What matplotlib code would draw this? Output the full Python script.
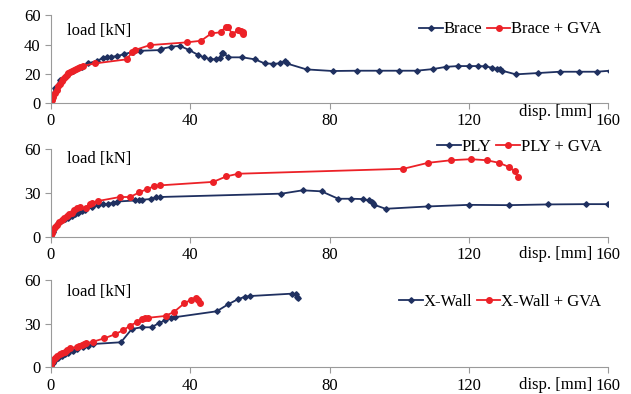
import numpy as np
import matplotlib.pyplot as plt

plt.rcParams['font.family'] = 'serif'
plt.rcParams['font.serif'] = ['Liberation Serif', 'Times New Roman', 'DejaVu Serif']
plt.rcParams['font.size'] = 12

navy = "#1f3060"
red = "#ec2127"

# Brace
brace_x = [0, 1.2, 2.6, 4.5, 6.4, 8.8, 10.7, 13.1, 14.8, 16.2, 17.2, 18.9, 21, 23.6, 25.6,
           31.3, 31.7, 34.6, 37, 39.7, 42.3, 43.9, 45.6, 47.4, 48.5, 49, 49.5, 50.9, 55,
           58.6, 61.4, 63.8, 65.7, 67.2, 67.7, 73.4, 80.9, 88, 94.2, 99.9, 105, 109.6,
           113.6, 116.9, 120.1, 122.7, 124.8, 126.8, 128.1, 128.9, 129.6, 133.5, 139.9,
           146.1, 151.7, 156.8, 160.5]
brace_y = [3, 10, 15.6, 19, 22, 24.7, 27, 28.8, 30.5, 31.6, 31.6, 32, 33.4, 35, 35.7,
           36.2, 37, 38.5, 39.1, 36.2, 32.8, 31.2, 30, 29.8, 31, 33.9, 34.5, 31.2, 31.2,
           29.8, 27, 26.8, 27, 28.6, 27, 22.9, 21.8, 22, 22, 22, 22, 23.1,
           24.7, 25.2, 25.2, 25.2, 25, 24, 23.1, 22.9, 22, 19.5, 20.4,
           21.3, 21.3, 21.3, 22]
brace_gva_x = [0, 0.3, 0.7, 1.2, 1.7, 2.1, 2.6, 3.1, 3.5, 4, 4.5, 5, 5.5, 5.9, 6.5, 7.2,
               7.8, 8.3, 9.3, 12.6, 21.7, 23.4, 24.1, 28.4, 39, 43.1, 46.1, 48.7, 50.2,
               50.9, 52, 53.8, 54.7, 55.2, 55.2]
brace_gva_y = [0.8, 2.2, 3.7, 6.5, 8.5, 11.5, 13.2, 14.9, 16.3, 17.9, 19, 20.2, 21, 21.8,
               22.5, 23.4, 24, 24.7, 25.4, 27, 29.8, 35, 36.2, 39.6, 41.5, 42.6, 47.7,
               48.4, 52.2, 52.2, 47.2, 49.9, 49.5, 48.5, 47.2]

# PLY
ply_x = [0, 0.5, 1, 1.5, 2.1, 3, 4, 5, 5.9, 6.8, 7.8, 8.8, 9.8, 11.7, 13.6, 15, 16.5,
         17.9, 19.1, 24.1, 25.4, 26, 28.7, 30.1, 31.3, 66.2, 72.3, 77.7, 82.5, 86.3,
         89.5, 91.4, 92.1, 92.6, 92.8, 96.1, 108.2, 120, 131.5, 142.8, 153.8, 160]
ply_y = [0, 3, 5, 7.2, 9.3, 10.7, 12, 13.2, 14.3, 15.5, 16.6, 17.6, 18.5, 20.1, 21.5,
         22.4, 22.6, 23.5, 24.2, 24.9, 25.4, 25.4, 25.9, 27, 27.3, 29.6, 31.9, 31.2,
         26.1, 26.1, 25.9, 24.9, 24.2, 23.1, 22, 19.2, 20.8, 21.9, 21.7, 22.2, 22.4, 22.4]
ply_gva_x = [0, 0.3, 0.7, 1.1, 1.6, 2.3, 3.1, 3.8, 4.5, 5.2, 5.9, 6.6, 7.4, 8.3, 10, 11.2,
             11.7, 13.4, 19.8, 22.7, 25.4, 27.6, 29.6, 31.3, 46.6, 50.4, 53.8, 101.2,
             108.3, 115, 120.5, 125.1, 128.7, 131.5, 133.2, 134.2]
ply_gva_y = [0, 2.5, 4.6, 6.5, 8.1, 9.8, 11.6, 13, 14.3, 15.5, 16.6, 18.2, 19.7, 20.1,
             19.4, 22.6, 23, 24.5, 27.3, 27.3, 30.5, 32.8, 34.6, 35.3, 37.7, 41.5, 43.3,
             46.7, 50.8, 52.6, 53.3, 52.6, 50.8, 48, 45, 40.9]

# X-Wall
xwall_x = [0, 0.5, 1.1, 2.1, 3.1, 4, 5, 6.2, 7.4, 9.3, 10.7, 12.1, 20.1, 23.2, 26, 28.9,
           31.1, 32.8, 34.5, 35.5, 47.6, 50.9, 53.6, 55.7, 57.3, 69.1, 70.3, 70.7, 71]
xwall_y = [1.6, 3.2, 5, 6.5, 8, 9, 10, 11.2, 12.4, 13.7, 14.6, 16, 17.2, 26.3, 27.5, 27.5,
           30.5, 32.2, 34.1, 34.4, 38.5, 43.3, 46.7, 48.5, 49, 50.6, 50.4, 48.5, 47.4]
xwall_gva_x = [0, 0.2, 0.6, 1.1, 1.8, 2.6, 3.3, 4, 4.7, 5.5, 7.4, 8.1, 8.8, 9.5, 10.2,
               12.1, 15.3, 18.4, 20.8, 22.7, 24.6, 26, 27, 27.8, 32.9, 35.4, 38.3, 40.1,
               41.6, 42.3, 42.8]
xwall_gva_y = [0, 3.8, 5, 6.2, 7.8, 9.1, 9.9, 10.7, 12, 13.5, 13.7, 14.5, 15.3, 15.9, 16.5,
               17.6, 19.9, 22.7, 25.6, 28.6, 30.9, 33, 33.7, 34, 35.3, 38.2, 44, 46.3,
               47.4, 46.3, 44]

panels = [
    (brace_x, brace_y, brace_gva_x, brace_gva_y, "Brace", "Brace + GVA",
     [0, 20, 40, 60], 0.7393, 0.82, 0.84),
    (ply_x, ply_y, ply_gva_x, ply_gva_y, "PLY", "PLY + GVA",
     [0, 30, 60], 0.3992, 0.885, 1.03),
    (xwall_x, xwall_y, xwall_gva_x, xwall_gva_y, "X-Wall", "X-Wall + GVA",
     [0, 30, 60], 0.0678, 0.86, 0.75),
]

fig = plt.figure(figsize=(6.31, 3.94), dpi=100)

for i, (x1, y1, x2, y2, lab1, lab2, yt, bottom, ly, legy) in enumerate(panels):
    ax = fig.add_axes([0.0808, bottom, 0.8828, 0.2215])
    ax.plot(x1, y1, color=navy, lw=1.3, marker="D", ms=2.8, label=lab1)
    ax.plot(x2, y2, color=red, lw=1.3, marker="o", ms=4, label=lab2)
    ax.set_xlim(0, 160)
    ax.set_ylim(0, 60)
    ax.set_xticks([0, 40, 80, 120, 160])
    ax.set_yticks(yt)
    for s in ["top", "right"]:
        ax.spines[s].set_visible(False)
    for s in ["left", "bottom"]:
        ax.spines[s].set_color("#9a9a9a")
    ax.tick_params(colors="#9a9a9a", labelcolor="black", length=4, labelsize=12)
    ax.text(0.029, ly, "load [kN]", transform=ax.transAxes, fontsize=12,
            ha="left", va="center")
    dy = -0.11 if i == 0 else -0.2
    ax.text(0.972, dy, "disp. [mm]", transform=ax.transAxes, fontsize=12,
            ha="right", va="center")
    ax.legend(loc="center right", bbox_to_anchor=(1.0, legy), ncol=2, frameon=False,
              handlelength=1.4, handletextpad=0.05, columnspacing=0.3,
              fontsize=12, borderaxespad=0)

fig.savefig("out.png", dpi=100)
